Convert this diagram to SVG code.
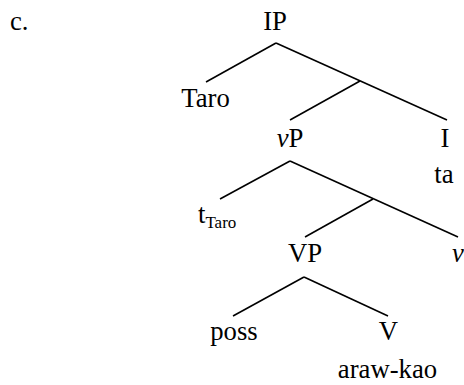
<svg xmlns="http://www.w3.org/2000/svg" width="464" height="385" viewBox="0 0 464 385">
<style>
.lbl{font-family:'Liberation Serif','Times New Roman',serif;font-size:26.7px;fill:#000}
.mid{text-anchor:middle}
.it{font-style:italic}
.sub{font-size:17px}
.edge{stroke:#000;stroke-width:1.6;fill:none}
</style>
<rect width="464" height="385" fill="#fff"/>
<text x="10" y="29.5" class="lbl" font-family="Liberation Serif">c.</text>
<g id="connectors" class="edge">
<line x1="276" y1="43" x2="206" y2="82"/>
<line x1="276" y1="43" x2="447" y2="120"/>
<line x1="360" y1="81" x2="290" y2="120"/>
<line x1="290" y1="161" x2="220" y2="199"/>
<line x1="290" y1="161" x2="458" y2="237"/>
<line x1="373" y1="199" x2="305" y2="237"/>
<line x1="304" y1="277" x2="233" y2="316"/>
<line x1="304" y1="277" x2="388" y2="316"/>
</g>
<g id="IP"><text x="275" y="29.5" class="lbl mid" font-family="Liberation Serif">IP</text></g>
<g id="Taro"><text x="205.5" y="107" class="lbl mid" font-family="Liberation Serif">Taro</text></g>
<g id="vP"><text x="290" y="147" class="lbl mid" font-family="Liberation Serif"><tspan class="it">v</tspan>P</text></g>
<g id="I"><text x="445" y="147" class="lbl mid" font-family="Liberation Serif">I</text><text x="444" y="183" class="lbl mid" font-family="Liberation Serif">ta</text></g>
<g id="tTaro"><text x="198" y="223" class="lbl" font-family="Liberation Serif">t<tspan class="sub" dy="5">Taro</tspan></text></g>
<g id="VP"><text x="305" y="262" class="lbl mid" font-family="Liberation Serif">VP</text></g>
<g id="v"><text x="452" y="262" class="lbl it" font-family="Liberation Serif">v</text></g>
<g id="poss"><text x="234" y="340" class="lbl mid" font-family="Liberation Serif">poss</text></g>
<g id="V"><text x="388.5" y="340" class="lbl mid" font-family="Liberation Serif">V</text><text x="387.5" y="378" class="lbl mid" font-family="Liberation Serif">araw-kao</text></g>
</svg>
